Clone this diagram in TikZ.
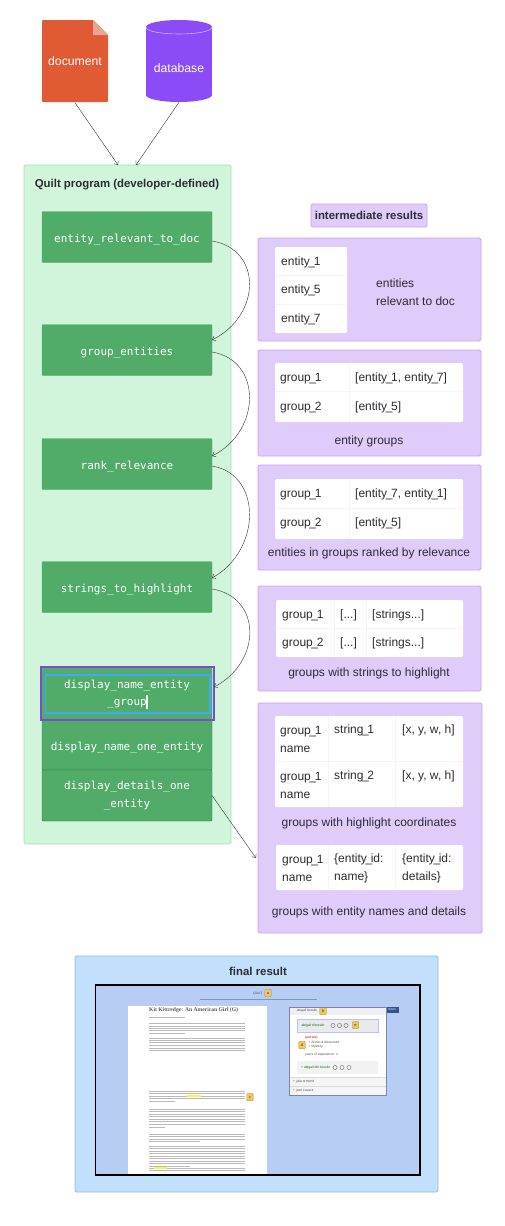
\documentclass[tikz,border=0pt]{standalone}
\usepackage{fontspec}
\setmainfont{Liberation Sans}
\setmonofont{DejaVu Sans Mono}
\newfontfamily\pagefont{Liberation Serif}
\usetikzlibrary{arrows.meta}
\definecolor{doc-red}{HTML}{E05A33}
\definecolor{db-violet}{HTML}{8B4CF7}
\definecolor{quilt-mint}{HTML}{D1F5DB}
\definecolor{quilt-edge}{HTML}{A9DDBC}
\definecolor{fn-green}{HTML}{50AC68}
\definecolor{res-lilac}{HTML}{E0CCFB}
\definecolor{res-edge}{HTML}{CF9CF9}
\definecolor{final-sky}{HTML}{C2E0FB}
\definecolor{final-edge}{HTML}{84BCEE}
\definecolor{shot-blue}{HTML}{B8CDF3}
\definecolor{ink}{HTML}{2C2C33}
\definecolor{badge-gold}{HTML}{F2C85B}
\definecolor{back-blue}{HTML}{34558B}
\newcommand\us{\kern-1.4pt\_\kern-1.4pt}
\begin{document}
\begin{tikzpicture}[
	x=1pt,y=-1pt,
	plain/.style={inner sep=0pt,font=\fontsize{12}{14}\selectfont,text=ink},
	cell/.style={plain,anchor=west,yshift=-0.8pt},
	stacked/.style={cell,align=left,font=\fontsize{12}{17.3}\selectfont},
	heading/.style={plain,font=\bfseries\fontsize{11.4}{14}\selectfont},
	shape label/.style={inner sep=0pt,font=\fontsize{12.2}{14}\selectfont,text=white},
	fnbox/.style={
		fill=fn-green, draw=fn-green, rounded corners=1pt,
		minimum width=170pt, minimum height=51pt, inner sep=0pt, outer sep=0pt,
		align=center, text=white, font=\ttfamily\fontsize{11}{17.5}\selectfont,
		execute at begin node={\rule{0pt}{14pt}}
	},
	panel/.style={draw=res-edge, fill=res-lilac, line width=0.8pt, rounded corners=1.5pt},
	tablebox/.style={fill=white, rounded corners=2pt},
	rowline/.style={draw=black!4, line width=0.6pt},
	flow/.style={draw=black!75, line width=0.45pt, -{Straight Barb[length=3pt,width=5pt]}},
	badge/.style={
		fill=badge-gold, draw=badge-gold!70!black, line width=0.3pt, rounded corners=1.2pt,
		minimum width=6.5pt, minimum height=7.5pt, inner sep=0pt,
		font=\fontsize{4}{4}\selectfont, text=black!80
	},
	tiny/.style={inner sep=0pt,font=\fontsize{3.3}{4}\selectfont,text=black!70},
	dial/.style={draw=black!60, line width=0.4pt, circle, minimum size=4.2pt, inner sep=0pt},
	bodyline/.style={draw=black!27, line width=0.9pt}
	]
	\useasboundingbox (0,0) rectangle (504,1226);
	
	% sources
	\fill[doc-red,rounded corners=0.8pt] (42,20) -- (93,20) -- (108,35) -- (108,102) -- (42,102) -- cycle;
	\fill[doc-red!55!white] (93,20) -- (108,35) -- (93,35) -- cycle;
	\node[shape label,minimum width=66pt,minimum height=82pt] (document) at (75,61.5) {document};
	\fill[db-violet] (179,27) ellipse[x radius=33,y radius=7];
	\fill[db-violet] (146,27) rectangle (212,95);
	\fill[db-violet] (179,95) ellipse[x radius=33,y radius=7];
	\draw[db-violet!45!white,line width=0.6pt] (146,27) .. controls (146,36.3) and (212,36.3) .. (212,27);
	\node[shape label,minimum width=66pt,minimum height=68pt] (database) at (179,68) {database};
	
	% quilt program
	\node[draw=quilt-edge,fill=quilt-mint,line width=0.8pt,rounded corners=1.5pt,
		minimum width=207pt,minimum height=679pt,inner sep=0pt,outer sep=0pt] (quilt) at (127.5,504.5) {};
	\coordinate (quiltinl) at (118,165);
	\coordinate (quiltinr) at (136,165);
	\node[heading] (quilttitle) at (127,185) {Quilt program (developer-defined)};
	
	\node[fnbox] (entityrelevant) at (127,237) {entity\_relevant\_to\_doc};
	\node[fnbox] (groupentities) at (127,350) {group\_entities};
	\node[fnbox] (rankrelevance) at (127,464) {rank\_relevance};
	\node[fnbox] (stringshighlight) at (127,587) {strings\_to\_highlight};
	\node[fnbox,minimum height=52pt] (nameentitygroup) at (127,694) {display\_name\_entity\\\_group};
	\node[fnbox,minimum height=50pt,draw=fn-green!70!black] (nameone) at (127,745) {display\_name\_one\_entity};
	\node[fnbox,minimum height=51pt,draw=fn-green!70!black] (detailsone) at (127,795.5) {display\_details\_one\\\_entity};
	\draw[draw=blue!50!violet!70,line width=1.5pt] (41,667) rectangle (214,720);
	\draw[draw=blue!45!cyan!75,line width=1.5pt] (45.5,675) rectangle (210,713);
	\fill[white] (146,695) rectangle (148,709);
	
	% connectors
	\draw[flow] (document.south) -- (quiltinl);
	\draw[flow] (database.south) -- (quiltinr);
	\draw[flow] ([yshift=-4pt]entityrelevant.east) .. controls +(50,8) and +(50,-25) .. ([yshift=10pt]groupentities.east);
	\draw[flow] ([yshift=-2pt]groupentities.east) .. controls +(50,8) and +(50,-25) .. ([yshift=8pt]rankrelevance.east);
	\draw[flow] ([yshift=-2pt]rankrelevance.east) .. controls +(50,8) and +(50,-28) .. ([yshift=9pt]stringshighlight.east);
	\draw[flow] ([yshift=-2pt]stringshighlight.east) .. controls +(50,8) and +(48,-25) .. ([yshift=7pt,xshift=2pt]nameentitygroup.east);
	\coordinate (panelin) at (256,858);
	\draw[flow] (detailsone.east) -- (panelin);
	
	% intermediate results
	\node[draw=res-edge,fill=res-lilac,line width=0.8pt,rounded corners=1.5pt,inner sep=0pt,
		minimum width=116pt,minimum height=23pt,font=\bfseries\fontsize{11.4}{14}\selectfont,text=ink] (resultstitle) at (369,215.5) {intermediate results};
	
	\draw[panel] (258,238) rectangle (481,341);
	\fill[tablebox] (275,247) rectangle (347,333);
	\draw[rowline] (275,275.5) -- (347,275.5);
	\draw[rowline] (275,304.5) -- (347,304.5);
	\node[cell] (entone) at (281,261.5) {entity\us 1};
	\node[cell] (entfive) at (281,290) {entity\us 5};
	\node[cell] (entseven) at (281,319) {entity\us 7};
	\node[stacked] (relevantcap) at (376,291.5) {entities\\relevant to doc};
	
	\draw[panel] (258,350) rectangle (481,456);
	\fill[tablebox] (275,363) rectangle (463,422);
	\draw[rowline] (275,391.5) -- (463,391.5);
	\draw[rowline] (349,363) -- (349,422);
	\node[cell] (grpa) at (280,378) {group\us 1};
	\node[cell] (grpavals) at (355,378) {[entity\us 1, entity\us 7]};
	\node[cell] (grpb) at (280,406.5) {group\us 2};
	\node[cell] (grpbvals) at (355,406.5) {[entity\us 5]};
	\node[plain] (groupscap) at (369,441) {entity groups};
	
	\draw[panel] (258,465) rectangle (481,570);
	\fill[tablebox] (275,479) rectangle (463,539);
	\draw[rowline] (275,508) -- (463,508);
	\draw[rowline] (349,479) -- (349,539);
	\node[cell] (rnka) at (280,494) {group\us 1};
	\node[cell] (rnkavals) at (355,494) {[entity\us 7, entity\us 1]};
	\node[cell] (rnkb) at (280,523) {group\us 2};
	\node[cell] (rnkbvals) at (355,523) {[entity\us 5]};
	\node[plain] (rankedcap) at (369,553) {entities in groups ranked by relevance};
	
	\draw[panel] (258,586) rectangle (481,691);
	\fill[tablebox] (276,600) rectangle (463,657);
	\draw[rowline] (276,628.5) -- (463,628.5);
	\draw[rowline] (334,600) -- (334,657);
	\draw[rowline] (366,600) -- (366,657);
	\node[cell] (strgrpa) at (282,615) {group\us 1};
	\node[cell] (strdotsa) at (340,615) {[...]};
	\node[cell] (strvalsa) at (372,615) {[strings...]};
	\node[cell] (strgrpb) at (282,643) {group\us 2};
	\node[cell] (strdotsb) at (340,643) {[...]};
	\node[cell] (strvalsb) at (372,643) {[strings...]};
	\node[plain] (stringscap) at (369,673) {groups with strings to highlight};
	
	\draw[panel] (258,703) rectangle (482,933);
	\fill[tablebox] (275,716) rectangle (463,807);
	\draw[rowline] (275,761) -- (463,761);
	\draw[rowline] (328,716) -- (328,807);
	\draw[rowline] (395,716) -- (395,807);
	\node[stacked] (coordnamea) at (280,738.5) {group\us 1\\name};
	\node[cell] (coordstra) at (334,730) {string\us 1};
	\node[cell] (coordvala) at (402,730) {[x, y, w, h]};
	\node[stacked] (coordnameb) at (280,784.5) {group\us 1\\name};
	\node[cell] (coordstrb) at (334,776) {string\us 2};
	\node[cell] (coordvalb) at (402,776) {[x, y, w, h]};
	\node[plain] (coordscap) at (369,823) {groups with highlight coordinates};
	\fill[tablebox] (276,845) rectangle (463,890);
	\draw[rowline] (328,845) -- (328,890);
	\draw[rowline] (395,845) -- (395,890);
	\node[stacked] (detnamea) at (282,867.5) {group\us 1\\name};
	\node[stacked] (detname) at (334,867.5) {\{entity\us id:\\name\}};
	\node[stacked] (detdetails) at (402,867.5) {\{entity\us id:\\details\}};
	\node[plain] (detailscap) at (369,912) {groups with entity names and details};
	
	% final result
	\draw[draw=final-edge,fill=final-sky,line width=0.8pt,rounded corners=1.5pt] (75,956) rectangle (438,1192);
	\node[heading] (finaltitle) at (258,971) {final result};
	\draw[draw=black,fill=shot-blue,line width=1.1pt] (95.5,985) rectangle (420,1175);
	\node[tiny,text=back-blue] (quiltlogo) at (258,993.5) {QUILT};
	\node[badge] (badgea) at (268,993) {a};
	\draw[back-blue,line width=0.8pt,opacity=.45] (200,999) -- (317,999);
	
	% page of text
	\fill[white] (128,1006) rectangle (267,1174.4);
	\node[anchor=west,inner sep=0pt,font=\pagefont\bfseries\fontsize{5.6}{6}\selectfont,text=black!65] (pagetitle) at (149,1010) {Kit Kittredge: An American Girl (G)};
	\draw[bodyline] (149,1017) -- (185,1017);
	\foreach \yl in {1023.7,1026,1028.4,1030.8,1038,1040.4,1042.8,1045.2,1048.4,1050.8}
		\draw[bodyline] (149,\yl) -- (245,\yl);
	\draw[bodyline] (149,1033) -- (185,1033);
	\foreach \yl in {1091,1093.5,1096,1098.5,1109,1111.5,1114,1116.5,1119,1121.5,1124,1134,1136.5,1139,1146,1148.5,1151,1153.5,1156,1158.5,1161,1163.5,1168,1170.5}
		\draw[bodyline] (149,\yl) -- (245,\yl);
	\draw[bodyline] (149,1101) -- (175,1101);
	\draw[bodyline] (149,1127) -- (165,1127);
	\draw[bodyline] (149,1141.5) -- (200,1141.5);
	\draw[bodyline] (149,1166) -- (190,1166);
	\fill[yellow!75!white] (187,1095) rectangle (201,1097);
	\fill[yellow!75!white] (154,1167) rectangle (167,1169);
	\node[badge] (badgec) at (250,1097) {c};
	
	% entity panel
	\node[fill=back-blue,minimum width=13pt,minimum height=5.5pt,inner sep=0pt,
		font=\fontsize{2.8}{3}\selectfont,text=white] (backtab) at (392.5,1009.8) {BACK};
	\fill[white] (289,1007) rectangle (386,1095);
	\fill[black!6] (289,1007) rectangle (386,1015);
	\node[tiny] (panelname) at (307,1011) {abigail breslin};
	\node[badge] (badgeb) at (323,1011) {b};
	\draw[draw=blue!25,fill=cyan!10!black!10,line width=0.5pt] (297,1019.5) rectangle (378,1032);
	\node[tiny,text=green!40!black] (entityname) at (313,1025.5) {abigail d breslin};
	\node[dial] (diala) at (333,1025.5) {};
	\node[dial] (dialb) at (339.5,1025.5) {};
	\node[dial] (dialc) at (346,1025.5) {};
	\node[badge] (badgee) at (355.5,1025) {e};
	\node[tiny,text=red!60!black,anchor=west] (genrelabel) at (305,1037.5) {genre(s):};
	\node[tiny,anchor=west] (genrea) at (309,1042.5) {• Action \& Adventure};
	\node[tiny,anchor=west] (genreb) at (309,1047) {• Mystery};
	\node[tiny,anchor=west] (yearslabel) at (305,1055) {years of experience: 2};
	\node[badge] (badged) at (302,1045) {d};
	\fill[black!5] (297,1061) rectangle (378,1074);
	\node[tiny,anchor=west] (othername) at (301,1067.5) {+ {\color{green!40!black}abigail} MK {\color{green!40!black}breslin}};
	\node[dial] (diald) at (335,1067.5) {};
	\node[dial] (diale) at (342,1067.5) {};
	\node[dial] (dialf) at (349,1067.5) {};
	\fill[black!4] (289,1077) rectangle (386,1095);
	\draw[black!15,line width=0.3pt] (289,1077) -- (386,1077);
	\draw[black!15,line width=0.3pt] (289,1086) -- (386,1086);
	\node[tiny,anchor=west] (julia) at (293,1082) {+ julia ormond};
	\node[tiny,anchor=west] (joan) at (293,1091) {+ joan cusack};
	\draw[draw=black!55!blue!50,line width=0.7pt] (289,1007) rectangle (386,1095);
\end{tikzpicture}
\end{document}
